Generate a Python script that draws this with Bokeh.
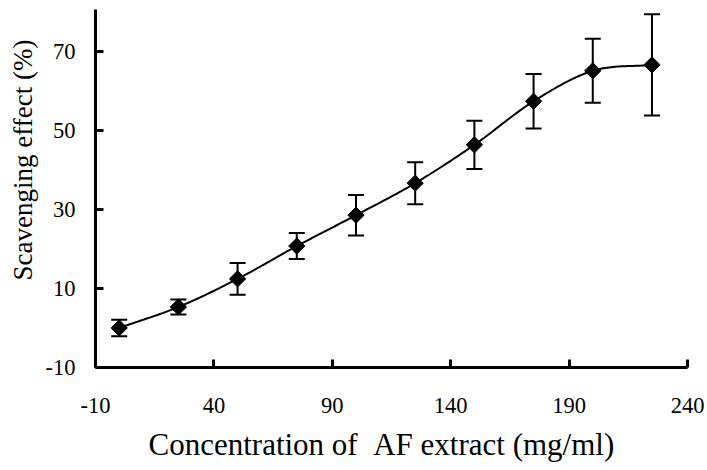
import numpy as np
from bokeh.plotting import figure
from bokeh.models import (ColumnDataSource, FixedTicker, Whisker, TeeHead, Title, Range1d)
from bokeh.embed import file_html
from bokeh.resources import INLINE

# ---- data ----
concentration = [0, 25, 50, 75, 100, 125, 150, 175, 200, 225]
scavenging = [0.0, 5.3, 12.4, 20.7, 28.5, 36.6, 46.3, 57.3, 65.0, 66.5]
error = [2.1, 1.9, 4.0, 3.3, 5.1, 5.3, 6.1, 6.9, 8.1, 12.8]
x_ticks = [-10, 40, 90, 140, 190, 240]
y_ticks = [-10, 10, 30, 50, 70]
x_label = "Concentration of \u00a0AF extract (mg/ml)"
y_label = "Scavenging effect (%)"

FONT = "Liberation Serif"

def smooth_curve(xs, ys, n=30):
    """Smoothed line through the data points (Catmull-Rom style bezier)."""
    xs = np.asarray(xs, float)
    ys = np.asarray(ys, float)
    px = np.concatenate([[2 * xs[0] - xs[1]], xs, [2 * xs[-1] - xs[-2]]])
    py = np.concatenate([[2 * ys[0] - ys[1]], ys, [2 * ys[-1] - ys[-2]]])
    out_x, out_y = [], []
    for i in range(1, len(px) - 2):
        t = np.linspace(0, 1, n, endpoint=(i == len(px) - 3))
        p0x, p1x, p2x, p3x = px[i - 1:i + 3]
        p0y, p1y, p2y, p3y = py[i - 1:i + 3]
        c1x, c1y = p1x + (p2x - p0x) / 6, p1y + (p2y - p0y) / 6
        c2x, c2y = p2x - (p3x - p1x) / 6, p2y - (p3y - p1y) / 6
        bx = (1 - t) ** 3 * p1x + 3 * (1 - t) ** 2 * t * c1x + 3 * (1 - t) * t ** 2 * c2x + t ** 3 * p2x
        by = (1 - t) ** 3 * p1y + 3 * (1 - t) ** 2 * t * c1y + 3 * (1 - t) * t ** 2 * c2y + t ** 3 * p2y
        out_x.extend(bx)
        out_y.extend(by)
    return out_x, out_y

src = ColumnDataSource(dict(
    x=concentration, y=scavenging,
    upper=[v + e for v, e in zip(scavenging, error)],
    lower=[v - e for v, e in zip(scavenging, error)],
))

p = figure(width=706, height=470, output_backend="svg", toolbar_location=None,
           x_range=Range1d(-10, 240), y_range=Range1d(-10, 80.5),
           min_border_left=92, min_border_right=19, min_border_top=9, min_border_bottom=102)
p.outline_line_color = None
p.xgrid.visible = False
p.ygrid.visible = False
p.background_fill_color = "white"

cx, cy = smooth_curve(concentration, scavenging)
p.line(cx, cy, line_color="black", line_width=2)

wh = Whisker(source=src, base="x", upper="upper", lower="lower",
             line_color="black", line_width=2,
             upper_head=TeeHead(size=16, line_width=2, line_color="black"),
             lower_head=TeeHead(size=16, line_width=2, line_color="black"))
p.add_layout(wh)

p.scatter("x", "y", source=src, marker="square", angle=np.pi / 4, size=11.5,
          fill_color="black", line_color="black")

for ax, ticks in ((p.xaxis[0], x_ticks), (p.yaxis[0], y_ticks)):
    ax.ticker = FixedTicker(ticks=ticks)
    ax.major_label_overrides = {t: str(t) for t in ticks}
    ax.minor_tick_line_color = None
    ax.major_tick_in = 8
    ax.major_tick_out = 0
    ax.major_tick_line_width = 3
    ax.axis_line_width = 3
    ax.axis_line_color = "black"
    ax.major_tick_line_color = "black"
    ax.major_label_text_font = FONT
    ax.major_label_text_font_size = "22.5px"
    ax.major_label_text_color = "black"

p.xaxis.major_label_standoff = 30
p.yaxis.major_label_standoff = 20

p.add_layout(Title(text=x_label, align="left", offset=53, standoff=18,
                   text_font=FONT, text_font_size="31px", text_font_style="normal",
                   text_color="black"), "below")
p.add_layout(Title(text=y_label, align="left", offset=87, standoff=10,
                   text_font=FONT, text_font_size="27px", text_font_style="normal",
                   text_color="black"), "left")

open("out.html", "w").write(file_html(p, INLINE))
